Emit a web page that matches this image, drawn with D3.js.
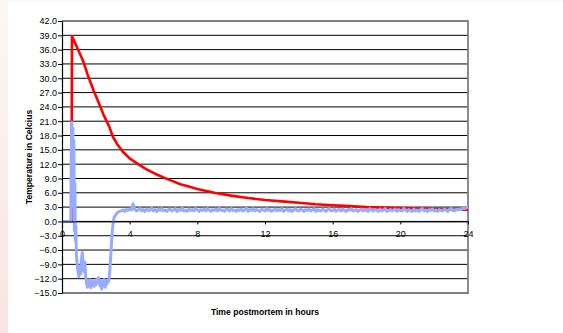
<!DOCTYPE html>
<html>
<head>
<meta charset="utf-8">
<script src="https://cdn.jsdelivr.net/npm/d3@7"></script>
<style>
html,body{margin:0;padding:0;background:#fff;}
svg{display:block;font-family:"Liberation Sans",Arial,sans-serif;}
</style>
</head>
<body>
<svg id="chart" width="563" height="333"></svg>
<script>
// ---- data ----
const xTicks = [0, 4, 8, 12, 16, 20, 24];
const yTicks = [-15, -12, -9, -6, -3, 0, 3, 6, 9, 12, 15, 18, 21, 24, 27, 30, 33, 36, 39, 42];

// red series: [hours, °C]
const redSeries = [
  [0, 0], [0.56, 0], [0.59, 38.8], [0.75, 37.6], [1.0, 35.6], [1.26, 33.5], [1.5, 30.9],
  [1.85, 27.6], [2.2, 24.6], [2.5, 22.0], [2.8, 19.8], [3.0, 17.8], [3.3, 16.0],
  [3.6, 14.6], [4.0, 13.2], [4.5, 12.0], [5.0, 10.9], [5.5, 10.0], [6.0, 9.2],
  [6.5, 8.5], [7.0, 7.8], [7.5, 7.3], [8.0, 6.8], [9.0, 6.0], [10.0, 5.4], [11.0, 4.9],
  [12.0, 4.5], [13.0, 4.2], [14.0, 3.9], [15.0, 3.6], [16.0, 3.4], [17.0, 3.2],
  [18.0, 3.0], [19.0, 2.9], [20.0, 2.8], [21.0, 2.7], [22.0, 2.6], [23.0, 2.5], [24.0, 2.45]
];

// blue series, early part: [hours, °C]
const blueEarly = [
  [0, 0], [0.5, 0], [0.52, 0.5], [0.55, 14], [0.58, 20.8], [0.61, 9], [0.64, 19.5],
  [0.67, 3], [0.70, 17], [0.73, -2], [0.76, 8], [0.79, -4], [0.82, -1], [0.85, -7],
  [0.9, -9], [0.95, -10.5], [1.0, -11.6], [1.05, -9.5], [1.1, -11], [1.15, -8],
  [1.2, -6.5], [1.25, -9], [1.3, -10.5], [1.35, -8.5], [1.4, -11.5], [1.45, -13],
  [1.5, -13.8], [1.55, -12.5], [1.6, -13.5], [1.65, -12.2], [1.7, -13.9], [1.75, -12.6],
  [1.8, -13.2], [1.85, -12.4], [1.9, -13.6], [1.95, -12.8], [2.0, -13.3], [2.05, -12.2],
  [2.1, -12.9], [2.15, -11.8], [2.2, -12.6], [2.25, -13.5], [2.3, -12.4], [2.35, -14.2],
  [2.4, -12.7], [2.45, -13.1], [2.5, -12.2], [2.55, -13.8], [2.6, -12.5], [2.65, -13.2],
  [2.7, -12.3], [2.75, -12.6], [2.8, -11.5], [2.85, -9], [2.9, -6], [2.95, -3],
  [3.0, -1], [3.05, 0.3], [3.1, 1.0], [3.2, 1.5], [3.3, 1.9], [3.4, 2.1]
];

// blue series, plateau: one reading every 0.1 h from 3.5 h to 24 h
const bluePlateauStart = 3.5;
const bluePlateauStep = 0.1;
const bluePlateau = [
  2.2,2.4,2.1,2.5,2.3,2.6,2.4,3.7,2.5,2.2,
  2.4,2.7,2.2,2.5,2.1,2.6,2.3,2.4,2.8,2.2,
  2.5,2.1,2.6,2.3,2.7,2.2,2.4,2.1,2.5,2.6,
  2.2,2.4,2.7,2.1,2.5,2.3,2.8,2.2,2.4,2.1,
  2.6,2.3,2.5,2.2,2.7,2.4,2.1,2.5,2.3,2.6,
  2.2,2.7,2.4,2.1,2.5,2.3,2.6,2.2,2.8,2.3,
  2.4,2.1,2.6,2.5,2.2,2.7,2.3,2.4,2.1,2.5,
  2.3,2.6,2.2,2.4,2.8,2.1,2.5,2.3,2.7,2.2,
  2.5,2.3,2.1,2.6,2.4,2.2,2.7,2.3,2.5,2.1,
  2.4,2.6,2.2,2.5,2.3,2.7,2.1,2.4,2.6,2.2,
  2.5,2.1,2.4,2.7,2.3,2.2,2.6,2.4,2.1,2.5,
  2.3,2.6,2.2,2.4,2.7,2.1,2.5,2.3,2.2,2.6,
  2.4,2.1,2.5,2.7,2.2,2.3,2.6,2.1,2.4,2.5,
  2.2,2.6,2.3,2.1,2.5,2.4,2.7,2.2,2.3,2.5,
  2.1,2.4,2.6,2.2,2.5,2.3,2.1,2.7,2.4,2.2,
  2.5,2.3,2.1,2.6,2.2,2.4,2.7,2.1,2.3,2.5,
  2.2,2.4,2.6,2.1,2.5,2.3,2.2,2.7,2.4,2.1,
  2.5,2.3,2.1,2.6,2.2,2.4,2.1,2.5,2.7,2.2,
  2.4,2.1,2.5,2.3,2.6,2.2,2.4,2.1,2.5,2.3,
  2.2,2.6,2.4,2.1,2.5,2.7,2.3,2.2,2.5,2.4,
  2.6,2.5,2.8,2.7,2.9,3.0
];

const yTitle = "Temperature in Celcius";
const xTitle = "Time postmortem in hours";

// ---- drawing ----
const svg = d3.select("#chart");
const plot = {left: 62, right: 468, top: 21, bottom: 293};

// background tint strips
const defs = svg.append("defs");
const grad = defs.append("linearGradient").attr("id", "strip").attr("x1", 0).attr("y1", 0).attr("x2", 0).attr("y2", 1);
grad.append("stop").attr("offset", "0%").attr("stop-color", "#fdf7f3");
grad.append("stop").attr("offset", "100%").attr("stop-color", "#f8e4e1");
svg.append("rect").attr("x", 0).attr("y", 0).attr("width", 8).attr("height", 333).attr("fill", "url(#strip)");
svg.append("rect").attr("x", 8).attr("y", 0).attr("width", 555).attr("height", 2).attr("fill", "#fdf9f6");

const x = d3.scaleLinear().domain([0, 24]).range([plot.left, plot.right]);
const y = d3.scaleLinear().domain([-15, 42]).range([plot.bottom, plot.top]);

// gridlines
svg.append("g").selectAll("line")
  .data(yTicks.filter(d => d > -15 && d < 42))
  .join("line")
  .attr("x1", plot.left).attr("x2", plot.right)
  .attr("y1", d => y(d)).attr("y2", d => y(d))
  .attr("stroke", "#000").attr("stroke-width", 1);

// plot border (top, right, bottom)
svg.append("path")
  .attr("d", `M${plot.left},${y(42)}H${plot.right}V${y(-15)}H${plot.left}`)
  .attr("fill", "none").attr("stroke", "#808080").attr("stroke-width", 1.8);

// series
const line = d3.line().x(d => x(d[0])).y(d => y(d[1]));
svg.append("path").datum(redSeries).attr("d", line)
  .attr("fill", "none").attr("stroke", "#ff0000").attr("stroke-width", 2.6)
  .attr("stroke-linejoin", "round");

const blueSeries = blueEarly.concat(bluePlateau.map((v, i) => [bluePlateauStart + i * bluePlateauStep, v]));
svg.append("path").datum(blueSeries).attr("d", line)
  .attr("fill", "none").attr("stroke", "#98acff").attr("stroke-width", 3)
  .attr("stroke-linejoin", "round");

// y axis
const yAxis = svg.append("g").attr("transform", `translate(${plot.left},0)`)
  .call(d3.axisLeft(y).tickValues(yTicks).tickFormat(d3.format(".1f")).tickSize(4).tickSizeOuter(0).tickPadding(1));
yAxis.select(".domain").attr("stroke", "#000").attr("stroke-width", 1.2);
yAxis.selectAll("text").attr("font-size", 9).attr("fill", "#000").attr("font-family", "Liberation Sans, Arial, sans-serif");

// x axis on the 0 line
const xAxis = svg.append("g").attr("transform", `translate(0,${y(0)})`)
  .call(d3.axisBottom(x).tickValues(xTicks).tickFormat(d3.format("d")).tickSize(3).tickSizeOuter(0).tickPadding(6));
xAxis.select(".domain").attr("stroke", "#000");
xAxis.selectAll("text").attr("font-size", 9).attr("fill", "#000").attr("font-family", "Liberation Sans, Arial, sans-serif");

// titles
svg.append("text")
  .attr("transform", `translate(32,157) rotate(-90)`)
  .attr("text-anchor", "middle")
  .attr("font-size", 8.6).attr("font-weight", "bold")
  .text(yTitle);
svg.append("text")
  .attr("x", 265).attr("y", 315)
  .attr("text-anchor", "middle")
  .attr("font-size", 8.6).attr("font-weight", "bold")
  .text(xTitle);
</script>
</body>
</html>
